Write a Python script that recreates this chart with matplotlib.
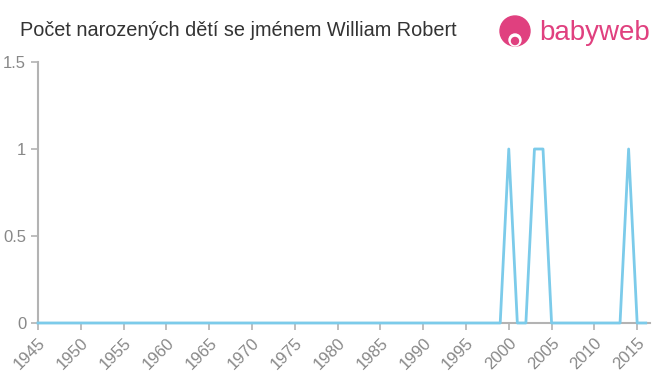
import numpy as np
import matplotlib.pyplot as plt
from matplotlib.patches import Circle
from matplotlib.transforms import IdentityTransform

plt.rcParams['font.family'] = ['Liberation Sans', 'DejaVu Sans']

years = list(range(1945, 2017))
counts = [0] * len(years)
for y in (2000, 2003, 2004, 2014):
    counts[years.index(y)] = 1

xticks = list(range(1945, 2016, 5))
yticks = [0, 0.5, 1, 1.5]
ylabels = ['0', '0.5', '1', '1.5']

fig = plt.figure(figsize=(6.6, 3.75), dpi=100)
ax = fig.add_axes([38/660, 1 - 323/375, 612/660, 261/375])
ax.plot(years, counts, color='#7ccbea', lw=2, zorder=3, clip_on=False)
ax.set_xlim(1945, 2016.5)
ax.set_ylim(0, 1.5)
ax.set_xticks(xticks)
ax.set_xticklabels([str(x) for x in xticks], rotation=45, ha='right', rotation_mode='anchor')
ax.set_yticks(yticks)
ax.set_yticklabels(ylabels)
for s in ('top', 'right'):
    ax.spines[s].set_visible(False)
for s in ('left', 'bottom'):
    ax.spines[s].set_color('#b3b3b3')
    ax.spines[s].set_linewidth(1.5)
ax.tick_params(colors='#b3b3b3', labelcolor='#888888', labelsize=12, length=5, width=1.2)

fig.text(20/660, 1 - 31/375, 'Počet narozených dětí se jménem William Robert',
         fontsize=14.3, color='#333333', va='center', ha='left')
# logo
fig.patches.append(Circle((515, 375 - 31), 15, transform=IdentityTransform(), color='#e0407f'))
fig.patches.append(Circle((515, 375 - 40), 6, transform=IdentityTransform(), color='white'))
fig.patches.append(Circle((515, 375 - 41), 3.5, transform=IdentityTransform(), color='#e0407f'))
fig.text(539/660, 1 - 33/375, 'babyweb', fontsize=20, color='#e0407f', va='center', ha='left')

fig.savefig('out.png')
